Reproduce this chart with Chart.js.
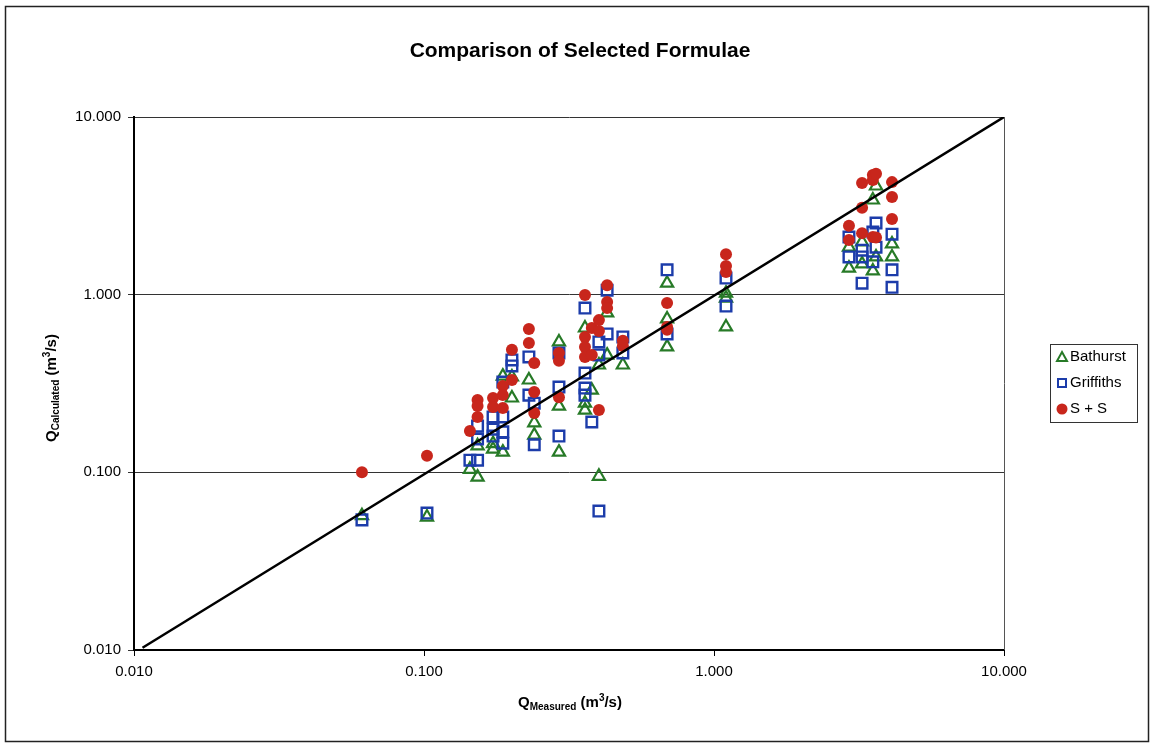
<!DOCTYPE html>
<html>
<head>
<meta charset="utf-8">
<script src="https://cdn.jsdelivr.net/npm/chart.js@4/dist/chart.umd.min.js"></script>
<style>
  body { margin: 0; background: #fff; }
  #wrap { width: 1154px; height: 747px; }
</style>
</head>
<body>
<div id="wrap"><canvas id="chart" width="1154" height="747"></canvas></div>
<script>
// measured / calculated discharge (m3/s)
const bathurstX = [0.0611, 0.1024, 0.144, 0.153, 0.153, 0.173, 0.173, 0.187, 0.187, 0.201, 0.201, 0.230, 0.240, 0.240,
  0.292, 0.292, 0.292, 0.359, 0.359, 0.359, 0.379, 0.401, 0.401, 0.428, 0.428, 0.485, 0.689, 0.689, 0.689,
  1.10, 1.10, 1.10, 2.92, 2.92, 3.24, 3.24, 3.53, 3.53, 3.62, 3.62, 4.11, 4.11];
const bathurstY = [0.057, 0.056, 0.104, 0.094, 0.141, 0.145, 0.135, 0.348, 0.130, 0.344, 0.262, 0.331, 0.190, 0.162,
  0.542, 0.236, 0.130, 0.649, 0.245, 0.224, 0.290, 0.402, 0.095, 0.789, 0.457, 0.402, 1.16, 0.730, 0.508,
  1.02, 0.957, 0.658, 1.85, 1.41, 1.98, 1.49, 3.41, 1.36, 4.09, 1.63, 1.93, 1.63];

const griffithsX = [0.0611, 0.1024, 0.144, 0.153, 0.153, 0.153, 0.173, 0.173, 0.173, 0.187, 0.187, 0.187, 0.187,
  0.201, 0.201, 0.230, 0.230, 0.240, 0.240, 0.292, 0.292, 0.292, 0.359, 0.359, 0.359, 0.359, 0.379,
  0.401, 0.401, 0.401, 0.428, 0.428, 0.485, 0.485, 0.689, 0.689, 1.10, 1.10,
  2.92, 2.92, 3.24, 3.24, 3.24, 3.53, 3.53, 3.62, 3.62, 4.11, 4.11, 4.11];
const griffithsY = [0.054, 0.059, 0.117, 0.117, 0.182, 0.154, 0.205, 0.175, 0.160, 0.322, 0.205, 0.169, 0.146,
  0.429, 0.397, 0.446, 0.272, 0.245, 0.143, 0.470, 0.302, 0.160, 0.841, 0.362, 0.298, 0.272, 0.192,
  0.542, 0.458, 0.0605, 1.06, 0.601, 0.578, 0.470, 1.38, 0.601, 1.24, 0.863,
  2.11, 1.63, 1.78, 1.63, 1.16, 2.25, 1.53, 2.53, 1.85, 2.19, 1.38, 1.10];

const ssX = [0.0611, 0.1024, 0.144, 0.153, 0.153, 0.153, 0.173, 0.173, 0.187, 0.187, 0.187, 0.201, 0.201,
  0.230, 0.230, 0.240, 0.240, 0.240, 0.292, 0.292, 0.292, 0.359, 0.359, 0.359, 0.359, 0.379, 0.379,
  0.401, 0.401, 0.401, 0.428, 0.428, 0.428, 0.485, 0.485, 0.689, 0.689, 0.689, 1.10, 1.10, 1.10,
  2.92, 2.92, 3.24, 3.24, 3.24, 3.53, 3.53, 3.53, 3.62, 3.62, 4.11, 4.11, 4.11];
const ssY = [0.100, 0.124, 0.171, 0.255, 0.236, 0.205, 0.262, 0.233, 0.306, 0.272, 0.230, 0.489, 0.331,
  0.641, 0.535, 0.412, 0.283, 0.216, 0.470, 0.424, 0.265, 0.995, 0.578, 0.508, 0.446, 0.458, 0.649,
  0.719, 0.625, 0.224, 1.13, 0.91, 0.84, 0.55, 0.514, 0.898, 0.658, 0.635, 1.69, 1.45, 1.34,
  2.44, 2.03, 4.25, 3.08, 2.22, 4.72, 4.42, 2.11, 4.80, 2.10, 4.30, 3.55, 2.67];

// 1:1 line
const lineX = [0.0107, 10];
const lineY = [0.0103, 10];

const xTicks = [0.01, 0.1, 1, 10];
const yTicks = [0.01, 0.1, 1, 10];

const seriesNames = ['Bathurst', 'Griffiths', 'S + S'];
const green = '#277a27', blue = '#1c3caa', red = '#c8261c';
const FONT = "'Liberation Sans', Arial, sans-serif";

const pts = (xs, ys) => xs.map((x, i) => ({ x, y: ys[i] }));

// draws text pieces (normal / sub / sup) centred on x,y
function richText(ctx, parts, x, y, angle) {
  ctx.save();
  ctx.translate(x, y);
  ctx.rotate(angle);
  let total = 0;
  parts.forEach(p => { ctx.font = p.font; total += ctx.measureText(p.t).width; });
  let cx = -total / 2;
  ctx.fillStyle = '#000';
  ctx.textBaseline = 'middle';
  ctx.textAlign = 'left';
  parts.forEach(p => {
    ctx.font = p.font;
    ctx.fillText(p.t, cx, p.dy || 0);
    cx += ctx.measureText(p.t).width;
  });
  ctx.restore();
}

const decor = {
  id: 'decor',
  afterDraw(chart) {
    const ctx = chart.ctx;
    const a = chart.chartArea;
    ctx.save();
    // outer frame
    ctx.strokeStyle = '#222';
    ctx.lineWidth = 1.5;
    ctx.strokeRect(5.5, 6.5, 1143, 735);
    // right edge of plot
    ctx.strokeStyle = '#555';
    ctx.lineWidth = 1;
    ctx.beginPath();
    ctx.moveTo(a.right + 0.5, a.top);
    ctx.lineTo(a.right + 0.5, a.bottom);
    ctx.stroke();

    // title
    ctx.fillStyle = '#000';
    ctx.font = 'bold 21px ' + FONT;
    ctx.textAlign = 'center';
    ctx.textBaseline = 'middle';
    ctx.fillText('Comparison of Selected Formulae', 580, 51);

    const big = 'bold 15px ' + FONT, small = 'bold 10px ' + FONT;
    richText(ctx, [
      { t: 'Q', font: big }, { t: 'Measured', font: small, dy: 4 },
      { t: ' (m', font: big }, { t: '3', font: small, dy: -5 }, { t: '/s)', font: big }
    ], 570, 703, 0);
    richText(ctx, [
      { t: 'Q', font: big }, { t: 'Calculated', font: small, dy: 4 },
      { t: ' (m', font: big }, { t: '3', font: small, dy: -5 }, { t: '/s)', font: big }
    ], 52, 388, -Math.PI / 2);

    // legend
    ctx.strokeStyle = '#333';
    ctx.lineWidth = 1;
    ctx.strokeRect(1050.5, 344.5, 87, 78);
    const ys = [357, 383, 409];
    ctx.font = '15px ' + FONT;
    ctx.textAlign = 'left';
    ys.forEach((y, i) => {
      const x = 1062;
      ctx.lineWidth = 2;
      if (i === 0) {
        ctx.strokeStyle = green;
        ctx.beginPath();
        ctx.moveTo(x, y - 5); ctx.lineTo(x + 5, y + 4); ctx.lineTo(x - 5, y + 4); ctx.closePath();
        ctx.stroke();
      } else if (i === 1) {
        ctx.strokeStyle = blue;
        ctx.strokeRect(x - 4, y - 4, 8, 8);
      } else {
        ctx.fillStyle = red;
        ctx.beginPath(); ctx.arc(x, y, 5.5, 0, Math.PI * 2); ctx.fill();
      }
      ctx.fillStyle = '#000';
      ctx.fillText(seriesNames[i], 1070, y);
    });
    ctx.restore();
  }
};

new Chart(document.getElementById('chart'), {
  type: 'scatter',
  data: {
    datasets: [
      { label: seriesNames[0], data: pts(bathurstX, bathurstY), pointStyle: 'triangle', pointRadius: 7,
        borderColor: green, backgroundColor: 'rgba(0,0,0,0)', pointBorderWidth: 2.2, order: 3 },
      { label: seriesNames[1], data: pts(griffithsX, griffithsY), pointStyle: 'rect', pointRadius: 7.5,
        borderColor: blue, backgroundColor: 'rgba(0,0,0,0)', pointBorderWidth: 2.4, order: 2 },
      { label: seriesNames[2], data: pts(ssX, ssY), pointStyle: 'circle', pointRadius: 6,
        borderColor: red, backgroundColor: red, pointBorderWidth: 0, order: 1 },
      { type: 'line', label: '1:1', data: pts(lineX, lineY), borderColor: '#000', borderWidth: 2.5,
        pointRadius: 0, fill: false, order: 0 }
    ]
  },
  options: {
    responsive: false,
    animation: false,
    devicePixelRatio: 1,
    layout: { padding: { top: 117, right: 150, left: 0, bottom: 0 } },
    plugins: { legend: { display: false }, tooltip: { enabled: false } },
    scales: {
      x: {
        type: 'logarithmic', min: 0.01, max: 10,
        afterBuildTicks: s => { s.ticks = xTicks.map(v => ({ value: v })); },
        afterFit: s => { s.height = 97; },
        ticks: { callback: v => Number(v).toFixed(3), color: '#000', font: { family: FONT, size: 15 },
          padding: 7, maxRotation: 0, autoSkip: false },
        grid: { drawOnChartArea: false, color: '#000', tickLength: 6 },
        border: { color: '#000', width: 2 }
      },
      y: {
        type: 'logarithmic', min: 0.01, max: 10,
        afterBuildTicks: s => { s.ticks = yTicks.map(v => ({ value: v })); },
        afterFit: s => { s.width = 134; },
        ticks: { callback: v => Number(v).toFixed(3), color: '#000', font: { family: FONT, size: 15 },
          padding: 7, autoSkip: false },
        grid: { color: '#333', lineWidth: 1, tickLength: 6 },
        border: { color: '#000', width: 2 }
      }
    }
  },
  plugins: [decor]
});
</script>
</body>
</html>
